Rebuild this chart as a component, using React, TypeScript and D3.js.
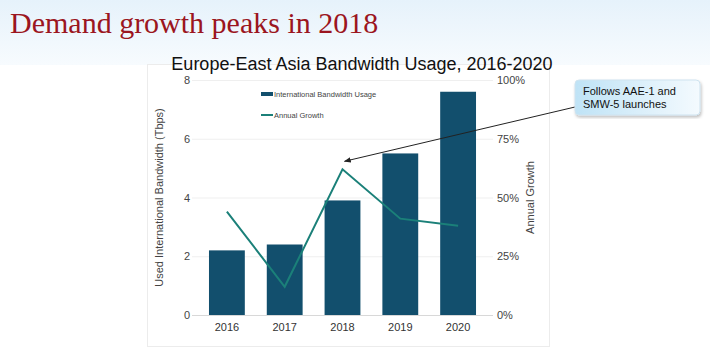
import React, { useEffect, useRef } from "react";
import * as d3 from "d3";

const years = ["2016", "2017", "2018", "2019", "2020"];
const bandwidth = [2.2, 2.4, 3.9, 5.5, 7.6];
const growth = [0.44, 0.12, 0.62, 0.41, 0.38];
const leftTicks = [0, 2, 4, 6, 8];
const rightTicks = [0, 0.25, 0.5, 0.75, 1];

const BAR = "#124f6d";
const LINE = "#1b8079";
const FONT = "'Liberation Sans', Arial, sans-serif";

function App() {
  const svgRef = useRef<SVGSVGElement>(null);
  const width = 710;
  const height = 351;

  useEffect(() => {
    const svg = d3.select(svgRef.current);
    svg.selectAll("*").remove();

    const margin = { top: 80, right: 223, bottom: 36, left: 198 };

    const defs = svg.append("defs");
    const hg = defs
      .append("linearGradient")
      .attr("id", "hdr")
      .attr("x1", 0)
      .attr("y1", 0)
      .attr("x2", 0)
      .attr("y2", 1);
    hg.append("stop").attr("offset", "0%").attr("stop-color", "#e6f2fb");
    hg.append("stop").attr("offset", "100%").attr("stop-color", "#f7fbfe");

    const cg = defs
      .append("linearGradient")
      .attr("id", "callout")
      .attr("x1", 0)
      .attr("y1", 0)
      .attr("x2", 1)
      .attr("y2", 0);
    cg.append("stop").attr("offset", "0%").attr("stop-color", "#bfe3f6");
    cg.append("stop").attr("offset", "100%").attr("stop-color", "#f4fafe");

    const shadow = defs.append("filter").attr("id", "shadow");
    shadow
      .append("feDropShadow")
      .attr("dx", 1)
      .attr("dy", 2)
      .attr("stdDeviation", 1.5)
      .attr("flood-opacity", 0.25);

    defs
      .append("marker")
      .attr("id", "arrow")
      .attr("viewBox", "0 0 10 10")
      .attr("refX", 9)
      .attr("refY", 5)
      .attr("markerWidth", 7)
      .attr("markerHeight", 7)
      .attr("orient", "auto")
      .append("path")
      .attr("d", "M0,1 L10,5 L0,9 Z")
      .attr("fill", "#222");

    // Background
    svg.append("rect").attr("width", width).attr("height", height).attr("fill", "#fff");
    svg.append("rect").attr("width", width).attr("height", 65).attr("fill", "url(#hdr)");

    // Chart panel
    svg
      .append("rect")
      .attr("x", 147.5)
      .attr("y", 64.5)
      .attr("width", 402)
      .attr("height", 282)
      .attr("fill", "#fff")
      .attr("stroke", "#ececec");

    // Slide header
    svg
      .append("text")
      .attr("x", 10)
      .attr("y", 33)
      .attr("fill", "#9b1520")
      .style("font-family", "'Liberation Serif', 'DejaVu Serif', serif")
      .style("font-size", "30px")
      .text("Demand growth peaks in 2018");

    const x = d3
      .scaleBand()
      .domain(years)
      .range([margin.left, width - margin.right])
      .paddingInner(0.38)
      .paddingOuter(0.19);

    const y = d3
      .scaleLinear()
      .domain([0, 8])
      .range([height - margin.bottom, margin.top]);

    const y2 = d3
      .scaleLinear()
      .domain([0, 1])
      .range([height - margin.bottom, margin.top]);

    // Grid lines
    svg
      .append("g")
      .selectAll("line")
      .data(leftTicks)
      .join("line")
      .attr("x1", margin.left - 6)
      .attr("x2", width - margin.right + 6)
      .attr("y1", (d) => y(d) + 0.5)
      .attr("y2", (d) => y(d) + 0.5)
      .attr("stroke", (d) => (d === 0 ? "#d8d8d8" : "#efefef"));

    // Bars
    svg
      .append("g")
      .selectAll("rect")
      .data(bandwidth)
      .join("rect")
      .attr("x", (d, i) => x(years[i])!)
      .attr("width", x.bandwidth())
      .attr("y", (d) => y(d))
      .attr("height", (d) => y(0) - y(d))
      .attr("fill", BAR);

    // Growth line
    const line = d3
      .line<number>()
      .x((d, i) => x(years[i])! + x.bandwidth() / 2)
      .y((d) => y2(d));

    svg
      .append("path")
      .datum(growth)
      .attr("d", line)
      .attr("fill", "none")
      .attr("stroke", LINE)
      .attr("stroke-width", 2);

    // Left axis
    const yAxis = svg
      .append("g")
      .attr("transform", `translate(${margin.left - 8},0)`)
      .call(d3.axisLeft(y).tickValues(leftTicks).tickSize(0).tickPadding(0));
    yAxis.select(".domain").remove();
    yAxis.selectAll("text").style("font-family", FONT).style("font-size", "11px").attr("fill", "#444");

    // Right axis
    const y2Axis = svg
      .append("g")
      .attr("transform", `translate(${width - margin.right + 10},0)`)
      .call(d3.axisRight(y2).tickValues(rightTicks).tickFormat(d3.format(".0%")).tickSize(0).tickPadding(0));
    y2Axis.select(".domain").remove();
    y2Axis.selectAll("text").style("font-family", FONT).style("font-size", "11px").attr("fill", "#444");

    // X axis
    const xAxis = svg
      .append("g")
      .attr("transform", `translate(0,${height - margin.bottom})`)
      .call(d3.axisBottom(x).tickSize(0).tickPadding(8));
    xAxis.select(".domain").remove();
    xAxis.selectAll("text").style("font-family", FONT).style("font-size", "11px").attr("fill", "#333");

    // Axis titles
    svg
      .append("text")
      .attr("transform", `translate(163,${(margin.top + height - margin.bottom) / 2})rotate(-90)`)
      .attr("text-anchor", "middle")
      .style("font-family", FONT)
      .style("font-size", "11px")
      .attr("fill", "#444")
      .text("Used International Bandwidth (Tbps)");

    svg
      .append("text")
      .attr("transform", `translate(534,${(margin.top + height - margin.bottom) / 2})rotate(-90)`)
      .attr("text-anchor", "middle")
      .style("font-family", FONT)
      .style("font-size", "11px")
      .attr("fill", "#444")
      .text("Annual Growth");

    // Chart title
    svg
      .append("text")
      .attr("x", 362)
      .attr("y", 70)
      .attr("text-anchor", "middle")
      .style("font-family", FONT)
      .style("font-size", "18px")
      .attr("fill", "#111")
      .text("Europe-East Asia Bandwidth Usage, 2016-2020");

    // Legend
    const legend = svg.append("g").attr("transform", "translate(261,94)");
    legend.append("rect").attr("x", 0).attr("y", -2).attr("width", 12).attr("height", 4).attr("fill", BAR);
    legend
      .append("text")
      .attr("x", 13)
      .attr("y", 3)
      .style("font-family", FONT)
      .style("font-size", "7.5px")
      .attr("fill", "#444")
      .text("International Bandwidth Usage");
    legend
      .append("line")
      .attr("x1", 0)
      .attr("x2", 12)
      .attr("y1", 21)
      .attr("y2", 21)
      .attr("stroke", LINE)
      .attr("stroke-width", 2);
    legend
      .append("text")
      .attr("x", 13)
      .attr("y", 24)
      .style("font-family", FONT)
      .style("font-size", "7.5px")
      .attr("fill", "#444")
      .text("Annual Growth");

    // Callout
    const peakX = x("2018")! + x.bandwidth() / 2;
    const peakY = y2(growth[2]);
    svg
      .append("line")
      .attr("x1", 575)
      .attr("y1", 107)
      .attr("x2", peakX + 2)
      .attr("y2", peakY - 8)
      .attr("stroke", "#222")
      .attr("stroke-width", 1)
      .attr("marker-end", "url(#arrow)");

    svg
      .append("rect")
      .attr("x", 575)
      .attr("y", 80)
      .attr("width", 125)
      .attr("height", 35)
      .attr("rx", 4)
      .attr("fill", "url(#callout)")
      .attr("stroke", "#cfe3ef")
      .attr("filter", "url(#shadow)");

    const callText = svg
      .append("text")
      .style("font-family", FONT)
      .style("font-size", "11px")
      .attr("fill", "#111");
    callText.append("tspan").attr("x", 583).attr("y", 95).text("Follows AAE-1 and");
    callText.append("tspan").attr("x", 583).attr("y", 108).text("SMW-5 launches");
  }, []);

  return (
    <svg
      ref={svgRef}
      width={width}
      height={height}
      style={{ position: "absolute", left: 0, top: 0, display: "block" }}
    ></svg>
  );
}

export default App;
